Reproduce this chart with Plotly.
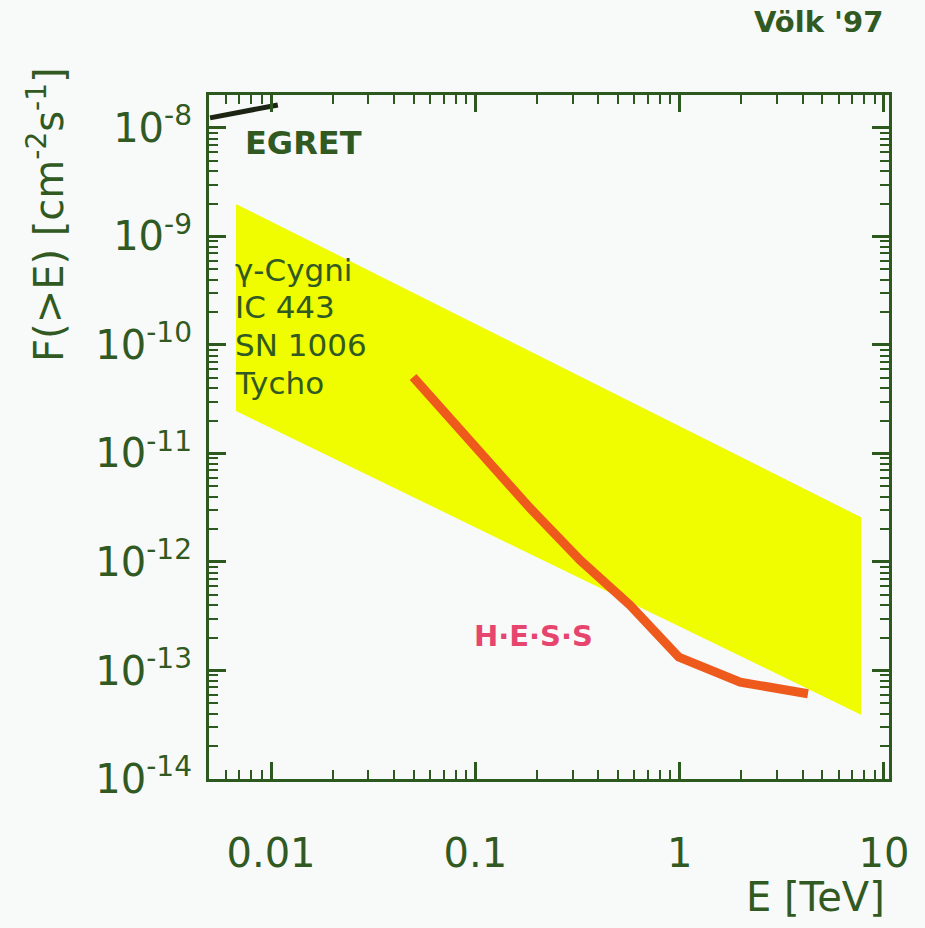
import plotly.graph_objects as go

# ---- data ----
band_E = [0.00674, 7.64]
band_upper = [1.95e-9, 2.55e-12]
band_lower = [2.52e-11, 4.05e-14]

hess_E = [0.0496, 0.094, 0.185, 0.326, 0.572, 0.99, 1.98, 4.25]
hess_F = [5.07e-11, 1.33e-11, 3.15e-12, 1.04e-12, 4.0e-13, 1.33e-13, 7.8e-14, 6.1e-14]

egret_E = [0.00503, 0.0108]
egret_F = [1.24e-8, 1.63e-8]

x_tickvals = [0.01, 0.1, 1, 10]
x_ticktext = ["0.01", "0.1", "1", "10"]
y_exps = [-8, -9, -10, -11, -12, -13, -14]
y_tickvals = [10.0 ** e for e in y_exps]
y_ticktext = ["10<sup>%d</sup>" % e for e in y_exps]

source_names = ["γ-Cygni", "IC 443", "SN 1006", "Tycho"]

TXT = "#315a22"
FRAME = "#2c5a1e"
FONT = "DejaVu Sans"

fig = go.Figure()

fig.add_trace(go.Scatter(
    x=[band_E[0], band_E[1], band_E[1], band_E[0]],
    y=[band_upper[0], band_upper[1], band_lower[1], band_lower[0]],
    fill="toself", fillcolor="#f0fc00", mode="lines",
    line=dict(color="#f0fc00", width=2), hoverinfo="skip", showlegend=False))

fig.add_trace(go.Scatter(
    x=hess_E, y=hess_F, mode="lines",
    line=dict(color="#ee5a1c", width=9), showlegend=False))

fig.add_trace(go.Scatter(
    x=egret_E, y=egret_F, mode="lines",
    line=dict(color="#1c2414", width=5), showlegend=False))

axis_common = dict(
    type="log", showgrid=False, zeroline=False,
    showline=True, linecolor=FRAME, linewidth=3, mirror="allticks",
    ticks="inside", ticklen=17, tickwidth=3, tickcolor=FRAME,
    tickfont=dict(family=FONT, size=40, color=TXT),
    tickmode="array",
    minor=dict(ticks="inside", ticklen=9, tickwidth=2, tickcolor=FRAME,
               dtick="D1", showgrid=False),
)

fig.update_xaxes(**axis_common, range=[-2.3035, 1.025],
                 tickvals=x_tickvals, ticktext=x_ticktext,
                 ticklabelstandoff=37)
fig.update_yaxes(**axis_common, range=[-14.0, -7.696],
                 tickvals=y_tickvals, ticktext=y_ticktext,
                 ticklabelstandoff=6)

ann = []
ann.append(dict(text="<b>Völk '97</b>", x=0.994, y=1.107, xanchor="right", yanchor="middle",
                font=dict(family=FONT, size=29, color=TXT)))
ann.append(dict(text="<b>EGRET</b>", x=0.05, y=0.930, xanchor="left", yanchor="middle",
                font=dict(family=FONT, size=32, color=TXT)))
for name, yy in zip(source_names, [0.744, 0.690, 0.6345, 0.579]):
    ann.append(dict(text=name, x=0.0353, y=yy, xanchor="left", yanchor="middle",
                    font=dict(family=FONT, size=31, color=TXT)))
ann.append(dict(text="<b>H·E·S·S</b>", x=0.3868, y=0.209, xanchor="left", yanchor="middle",
                font=dict(family=FONT, size=29, color="#e6466e")))
ann.append(dict(text="E [TeV]", x=0.997, y=-0.1725, xanchor="right", yanchor="middle",
                font=dict(family=FONT, size=40, color=TXT)))
ann.append(dict(text="F(>E) [cm<sup>-2</sup>s<sup>-1</sup>]", x=-0.2397, y=0.8246,
                xanchor="center", yanchor="middle", textangle=-90,
                font=dict(family=FONT, size=40, color=TXT)))
for a in ann:
    a.update(xref="paper", yref="paper", showarrow=False)

fig.update_layout(
    width=925, height=928,
    margin=dict(l=209, r=36, t=95, b=149),
    paper_bgcolor="#f8f9f9", plot_bgcolor="#f8f9f9",
    annotations=ann, showlegend=False,
)

fig.write_html("out.html")
